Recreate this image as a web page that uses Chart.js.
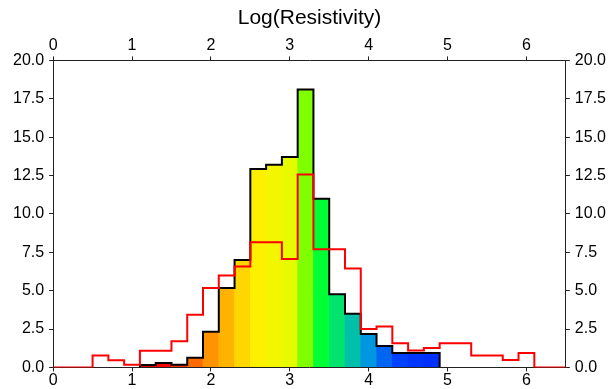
<!DOCTYPE html>
<html>
<head>
<meta charset="utf-8">
<script src="https://cdn.jsdelivr.net/npm/chart.js@4/dist/chart.umd.min.js"></script>
<style>
  html, body { margin: 0; padding: 0; background: #ffffff; }
  #wrap { width: 614px; height: 389px; }
</style>
</head>
<body>
<div id="wrap"><canvas id="c" width="614" height="389"></canvas></div>
<script>
// ---- data ----
const chartTitle = 'Log(Resistivity)';
const binWidth = 0.2;
// main histogram (filled, black outline): left bin edges and heights
const histEdges = [1.1, 1.3, 1.5, 1.7, 1.9, 2.1, 2.3, 2.5, 2.7, 2.9, 3.1, 3.3, 3.5, 3.7, 3.9, 4.1, 4.3, 4.5, 4.7];
const histValues = [0.15, 0.28, 0.17, 0.63, 2.33, 5.17, 7.0, 12.93, 13.2, 13.7, 18.1, 10.98, 4.77, 3.49, 2.17, 1.39, 0.93, 0.93, 0.93];
const histColors = ['#e00000', '#ff0000', '#ff3000', '#ff6a00', '#ff9400', '#ffb300', '#ffd600', '#fff000', '#f4f600', '#e6fa00', '#80ff00', '#00ff33', '#00e46e', '#00c0aa', '#0096e0', '#0066f2', '#0040ff', '#0034ff', '#0030ff'];
// comparison histogram (red step line): left bin edges and heights
const refEdges = [0.5, 0.7, 0.9, 1.1, 1.3, 1.5, 1.7, 1.9, 2.1, 2.3, 2.5, 2.7, 2.9, 3.1, 3.3, 3.5, 3.7, 3.9, 4.1, 4.3, 4.5, 4.7, 4.9, 5.1, 5.3, 5.5, 5.7, 5.9];
const refValues = [0.78, 0.46, 0.17, 1.08, 1.08, 1.7, 3.43, 5.17, 5.98, 6.57, 8.16, 8.16, 7.07, 12.56, 7.7, 7.7, 6.45, 2.5, 2.67, 1.58, 1.1, 1.26, 1.58, 1.58, 0.78, 0.78, 0.48, 0.93];
const xMin = 0, xMax = 6.5;
const yMin = 0, yMax = 20;
const xTickValues = [0, 1, 2, 3, 4, 5, 6];
const yTickStep = 2.5;

// ---- build library structures ----
const barData = histEdges.map((e, i) => ({ x: e + binWidth / 2, y: histValues[i] }));
const outline = [{ x: histEdges[0], y: 0 }];
histEdges.forEach((e, i) => outline.push({ x: e, y: histValues[i] }));
outline.push({ x: histEdges[histEdges.length - 1] + binWidth, y: 0 });

const refLine = [{ x: xMin, y: 0 }];
refEdges.forEach((e, i) => refLine.push({ x: e, y: refValues[i] }));
refLine.push({ x: refEdges[refEdges.length - 1] + binWidth, y: 0 });
refLine.push({ x: xMax, y: 0 });

const FONT = '"Liberation Sans", Arial, Helvetica, sans-serif';
const axisColor = '#222222';

function xAxis(pos, pad, lh) {
  return {
    type: 'linear', position: pos, min: xMin, max: xMax, offset: false,
    afterBuildTicks: (s) => { s.ticks = xTickValues.map(v => ({ value: v })); },
    ticks: { autoSkip: false, maxRotation: 0, includeBounds: false, padding: pad, color: '#000',
             font: { family: FONT, size: 16, lineHeight: lh }, callback: (v) => String(v) },
    grid: { offset: false, drawOnChartArea: false, drawTicks: true, tickLength: 4, color: axisColor, tickColor: axisColor },
    border: { display: true, color: axisColor, width: 1 }
  };
}
function yAxis(pos) {
  return {
    type: 'linear', position: pos, min: yMin, max: yMax,
    ticks: { stepSize: yTickStep, includeBounds: false, padding: 5, color: '#000',
             font: { family: FONT, size: 16 }, callback: (v) => Number(v).toFixed(1) },
    grid: { drawOnChartArea: false, drawTicks: true, tickLength: 4, color: axisColor, tickColor: axisColor },
    border: { display: true, color: axisColor, width: 1 }
  };
}

new Chart(document.getElementById('c'), {
  data: {
    datasets: [
      { type: 'bar', data: barData, backgroundColor: histColors, borderWidth: 0,
        barPercentage: 1.04, categoryPercentage: 1, order: 3, xAxisID: 'x', yAxisID: 'y' },
      { type: 'line', data: outline, borderColor: '#000000', borderWidth: 2, stepped: 'before',
        pointRadius: 0, fill: false, borderJoinStyle: 'miter', order: 2, xAxisID: 'x', yAxisID: 'y' },
      { type: 'line', data: refLine, borderColor: '#ff0000', borderWidth: 2, stepped: 'before',
        pointRadius: 0, fill: false, borderJoinStyle: 'miter', order: 1, xAxisID: 'x', yAxisID: 'y' }
    ]
  },
  options: {
    responsive: false,
    animation: false,
    devicePixelRatio: 1,
    layout: { padding: { left: 8, right: 3, top: 0, bottom: 0 } },
    plugins: {
      legend: { display: false },
      tooltip: { enabled: false },
      title: { display: true, text: chartTitle, color: '#000',
               font: { family: FONT, size: 21, weight: 'normal' }, padding: { top: 6, bottom: 4 } }
    },
    scales: {
      x: xAxis('bottom', 0, 1.1),
      x2: xAxis('top', 1, 1.2),
      y: yAxis('left'),
      y2: yAxis('right')
    }
  }
});
</script>
</body>
</html>
